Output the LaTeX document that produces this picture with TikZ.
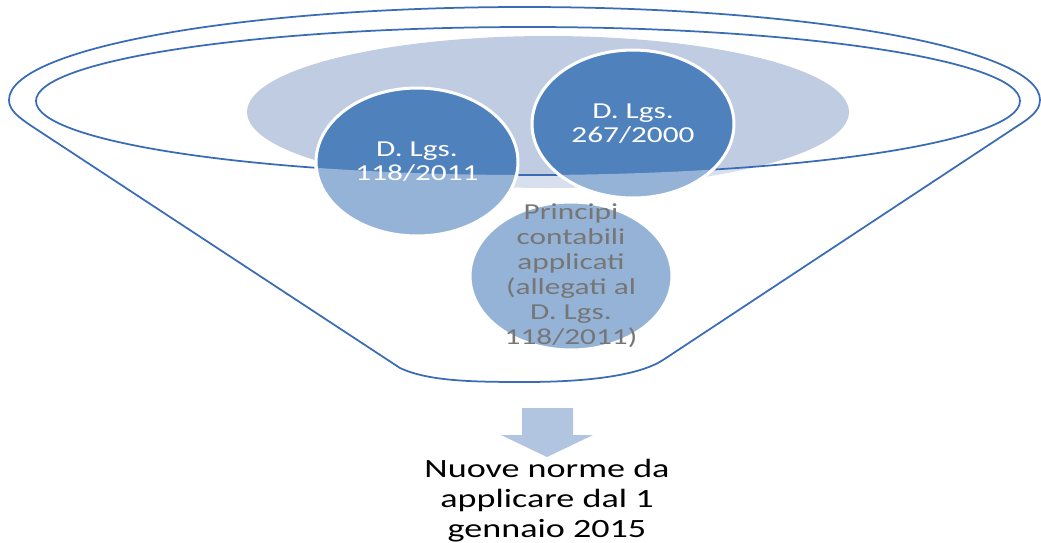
\documentclass[tikz,border=0pt]{standalone}
\usepackage{fontspec}
\setmainfont{Carlito}
\usepackage{graphicx}
\usetikzlibrary{shapes.geometric}
\definecolor{dblue}{RGB}{79,129,189}
\definecolor{lell}{RGB}{192,204,225}
\definecolor{arrcol}{RGB}{178,197,224}
\definecolor{fline}{RGB}{58,108,182}
\definecolor{gtext}{RGB}{118,118,118}
\newcommand{\sx}[1]{\scalebox{1.37}[1]{#1}}
\begin{document}
\begin{tikzpicture}[x=0.02cm,y=-0.02cm,
  circ/.style={ellipse, draw=white, line width=0.06cm, fill=dblue, inner sep=0pt,
    minimum width=4.04cm, minimum height=2.96cm, text=white, align=center,
    font=\fontsize{13}{13.5}\selectfont},
  funline/.style={draw=fline, line width=0.035cm}]
\useasboundingbox (0,0) rectangle (1041,542);
\def\outerpath{(1040,100) arc[start angle=0, end angle=-180, x radius=515.5, y radius=93]
  .. controls (9,110) and (18,117) .. (33,127) -- (400,368)
  .. controls (428,381) and (470,382) .. (525,382)
  .. controls (590,382) and (640,375) .. (663,360) -- (1025,121)
  .. controls (1036,113) and (1040,107) .. (1040,100) -- cycle}
% light back ellipse
\fill[lell] (548,112) ellipse[x radius=301, y radius=76];
% circles
\node[circ] (c3) at (571,276) {};
\node[circ] (c1) at (417,162) {\sx{D. Lgs.}\\\sx{118/2011}};
\node[circ] (c2) at (633,124) {\sx{D. Lgs.}\\\sx{267/2000}};
% translucent front of the funnel
\fill[white, fill opacity=0.4, even odd rule] \outerpath (528,101) ellipse[x radius=492, y radius=74];
% inner rim line, hidden behind the two upper circles
\begin{scope}[even odd rule]
  \clip (0,0) rectangle (1041,542)
    (417,162) ellipse[x radius=103, y radius=76]
    (633,124) ellipse[x radius=103, y radius=76];
  \draw[funline] (528,101) ellipse[x radius=492, y radius=74];
\end{scope}
% funnel outline
\draw[funline] \outerpath;
% text of the lower circle
\node[text=gtext, align=center, font=\fontsize{13}{14.2}\selectfont] (t3) at (571,276)
  {\sx{Principi}\\\sx{contabili}\\\sx{applicati}\\\sx{(allegati al}\\\sx{D. Lgs.}\\\sx{118/2011)}};
% arrow
\fill[arrcol] (522,408) -- (573,408) -- (573,435) -- (593,435) -- (547,457) -- (501,435) -- (522,435) -- cycle;
% result text
\node[align=center, font=\fontsize{15}{17.1}\selectfont] (out) at (547,501)
  {\sx{Nuove norme da}\\\sx{applicare dal 1}\\\sx{gennaio 2015}};
\end{tikzpicture}
\end{document}
